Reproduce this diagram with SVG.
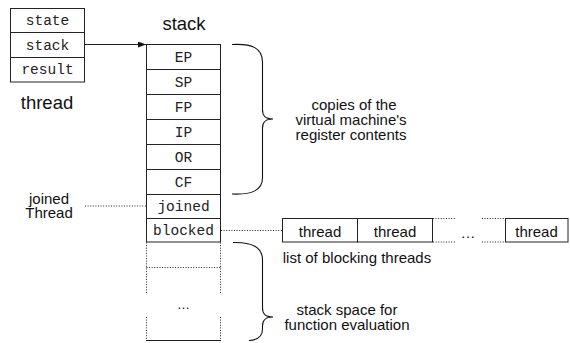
<svg xmlns="http://www.w3.org/2000/svg" width="570" height="343" viewBox="0 0 570 343">
  <style>
    .box { fill: #fff; stroke: #222; stroke-width: 1; }
    .line { fill: none; stroke: #222; stroke-width: 1; }
    .dot { fill: none; stroke: #222; stroke-width: 1; stroke-dasharray: 1 1.6; }
    .brace { fill: none; stroke: #111; stroke-width: 1.1; }
    .mono { font-family: "Liberation Mono", "Courier New", monospace; font-size: 14.5px; fill: #222; text-anchor: middle; }
    .sans { font-family: "Liberation Sans", Arial, Helvetica, sans-serif; font-size: 15px; fill: #111; text-anchor: middle; }
    .title { font-family: "Liberation Sans", Arial, Helvetica, sans-serif; font-size: 18.5px; fill: #111; text-anchor: middle; }
  </style>
  <defs>
    <marker id="arrow" viewBox="0 0 8 6" refX="8" refY="3" markerWidth="8" markerHeight="6" markerUnits="userSpaceOnUse" orient="auto">
      <path d="M0,0 L8,3 L0,6 Z" fill="#111"/>
    </marker>
  </defs>

  <rect width="570" height="343" fill="#fff"/>

  <!-- thread record -->
  <g id="thread">
    <rect class="box" x="10.5" y="8.5" width="74" height="73.5"/>
    <line class="line" x1="10.5" y1="32.5" x2="84.5" y2="32.5"/>
    <line class="line" x1="10.5" y1="57.5" x2="84.5" y2="57.5"/>
    <text class="mono" x="47.5" y="25">state</text>
    <text class="mono" x="47.5" y="49.5">stack</text>
    <text class="mono" x="47.5" y="74">result</text>
    <text class="title" x="47" y="109">thread</text>
  </g>

  <!-- stack frame -->
  <g id="stack">
    <text class="title" x="184" y="30">stack</text>
    <rect class="box" x="146.5" y="44.5" width="74" height="197.5"/>
    <line class="line" x1="146.5" y1="69.5" x2="220.5" y2="69.5"/>
    <line class="line" x1="146.5" y1="94.5" x2="220.5" y2="94.5"/>
    <line class="line" x1="146.5" y1="119.5" x2="220.5" y2="119.5"/>
    <line class="line" x1="146.5" y1="144.5" x2="220.5" y2="144.5"/>
    <line class="line" x1="146.5" y1="169.5" x2="220.5" y2="169.5"/>
    <line class="line" x1="146.5" y1="194.5" x2="220.5" y2="194.5"/>
    <line class="line" x1="146.5" y1="218.5" x2="220.5" y2="218.5"/>
    <text class="mono" x="183.5" y="61.5">EP</text>
    <text class="mono" x="183.5" y="86.5">SP</text>
    <text class="mono" x="183.5" y="111.5">FP</text>
    <text class="mono" x="183.5" y="136.5">IP</text>
    <text class="mono" x="183.5" y="161.5">OR</text>
    <text class="mono" x="183.5" y="186.5">CF</text>
    <text class="mono" x="183.5" y="211">joined</text>
    <text class="mono" x="183.5" y="235">blocked</text>
  </g>

  <!-- free stack space below the frame -->
  <g id="stack-space">
    <line class="dot" x1="146.5" y1="242.5" x2="146.5" y2="293"/>
    <line class="dot" x1="220.5" y1="242.5" x2="220.5" y2="293"/>
    <line class="dot" x1="146.5" y1="317" x2="146.5" y2="340"/>
    <line class="dot" x1="220.5" y1="317" x2="220.5" y2="340"/>
    <line class="dot" x1="146.5" y1="267.5" x2="220.5" y2="267.5"/>
    <line class="line" x1="146" y1="340.5" x2="221" y2="340.5"/>
    <text class="sans" x="183.5" y="309" style="font-size:13px">…</text>
  </g>

  <!-- joined thread label -->
  <g id="joined-thread">
    <text class="sans" x="49" y="204">joined</text>
    <text class="sans" x="49" y="218">Thread</text>
  </g>

  <!-- list of blocking threads -->
  <g id="blocking-list">
    <rect class="box" x="282.5" y="218.5" width="75" height="23.5"/>
    <rect class="box" x="357.5" y="218.5" width="75" height="23.5"/>
    <rect class="box" x="505.5" y="218.5" width="62.5" height="23.5"/>
    <text class="sans" x="320" y="237">thread</text>
    <text class="sans" x="395" y="237">thread</text>
    <text class="sans" x="536.5" y="237">thread</text>
    <line class="dot" x1="433" y1="218.5" x2="456" y2="218.5"/>
    <line class="dot" x1="433" y1="242" x2="456" y2="242"/>
    <line class="dot" x1="482" y1="218.5" x2="505" y2="218.5"/>
    <line class="dot" x1="482" y1="242" x2="505" y2="242"/>
    <text class="sans" x="468" y="238">…</text>
    <text class="sans" x="357" y="263">list of blocking threads</text>
  </g>

  <!-- braces and their notes -->
  <g id="registers-note">
    <path class="brace" d="M232,44.5 C252,43.5 262.5,48 262.5,62 L262.5,110 C262.5,116 265,119 273,119 M273,119 C265,119 262.5,122 262.5,128 L262.5,178 C262.5,190 252,195 232,194"/>
    <text class="sans" x="354" y="110">copies of the</text>
    <text class="sans" x="351" y="125">virtual machine's</text>
    <text class="sans" x="351" y="139.5">register contents</text>
  </g>
  <g id="stack-space-note">
    <path class="brace" d="M233,242.5 C252,242 262.5,247 262.5,260 L262.5,308 C262.5,314 265,317 273,317 M273,317 C265,317 262.5,320 262.5,326 L262.5,329 C262.5,336 258,340 249,340.5"/>
    <text class="sans" x="347" y="315">stack space for</text>
    <text class="sans" x="347" y="330">function evaluation</text>
  </g>

  <!-- connectors -->
  <g id="connectors">
    <line class="line" x1="84.5" y1="44.5" x2="146" y2="44.5" marker-end="url(#arrow)"/>
    <line class="dot" x1="85" y1="206" x2="146" y2="206"/>
    <line class="dot" x1="221" y1="230.5" x2="282" y2="230.5"/>
  </g>
</svg>
